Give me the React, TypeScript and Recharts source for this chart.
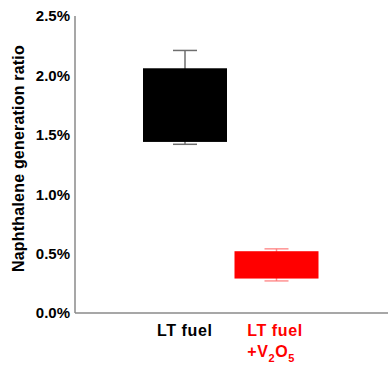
import React from 'react';
import { ComposedChart, Bar, XAxis, YAxis, Cell } from 'recharts';

const categories = ['LT fuel', 'LT fuel +V2O5'];
const boxLow = [1.44, 0.29];
const boxHigh = [2.06, 0.52];
const whiskerLow = [1.42, 0.27];
const whiskerHigh = [2.21, 0.54];
const yTicks = [0, 0.5, 1.0, 1.5, 2.0, 2.5];
const boxColors = ['#000000', '#ff0000'];
const whiskerColors = ['#6e6e6e', 'rgba(255,110,110,0.75)'];
const yTitle = 'Naphthalene generation ratio';

const data = categories.map((c, i) => ({
  name: c,
  range: [boxLow[i], boxHigh[i]],
  lo: boxLow[i],
  hi: boxHigh[i],
  wLo: whiskerLow[i],
  wHi: whiskerHigh[i],
  idx: i,
}));

const FONT = '"Liberation Sans", Arial, sans-serif';
const FRAME = '#8a8a8a';

const BoxShape = (props: any) => {
  const { x, y, width, height, payload, fill } = props;
  const { lo, hi, wLo, wHi, idx } = payload;
  const ppu = height / (hi - lo);
  const toY = (v: number) => y + (hi - v) * ppu;
  const cx = x + width / 2;
  const capHalf = 12;
  const stroke = whiskerColors[idx];
  const yTop = toY(wHi);
  const yBot = toY(wLo);
  return (
    <g>
      <line x1={cx} x2={cx} y1={yTop} y2={yBot} stroke={stroke} strokeWidth={1.5} />
      <line x1={cx - capHalf} x2={cx + capHalf} y1={yTop} y2={yTop} stroke={stroke} strokeWidth={1.5} />
      <line x1={cx - capHalf} x2={cx + capHalf} y1={yBot} y2={yBot} stroke={stroke} strokeWidth={1.5} />
      <rect x={x} y={y} width={width} height={height} fill={fill} />
    </g>
  );
};

const XTick = (props: any) => {
  const { x, y, index } = props;
  const by = y + 23;
  if (index === 0) {
    return (
      <text x={x} y={by} textAnchor="middle" fill="#000" fontFamily={FONT} fontWeight="bold" fontSize={16} letterSpacing={0.6}>
        LT fuel
      </text>
    );
  }
  const lx = x - 29;
  return (
    <text x={lx} y={by} fill="#ff0000" fontFamily={FONT} fontWeight="bold" fontSize={16} letterSpacing={0.6}>
      <tspan x={lx}>LT fuel</tspan>
      <tspan x={lx} dy={21}>+V</tspan>
      <tspan dy={5} fontSize={11}>2</tspan>
      <tspan dy={-5}>O</tspan>
      <tspan dy={5} fontSize={11}>5</tspan>
    </text>
  );
};

const YTitle = (props: any) => {
  const cx = 24;
  const cy = 158.5;
  return (
    <text x={cx} y={cy} textAnchor="middle" transform={`rotate(-90, ${cx}, ${cy})`} fill="#000" fontFamily={FONT} fontWeight="bold" fontSize={16} letterSpacing={0.2}>
      {yTitle}
    </text>
  );
};

export default function App() {
  return (
    <div style={{ position: 'absolute', left: 0, top: 0, background: '#fff' }}>
      <ComposedChart width={389} height={370} data={data} margin={{ top: 16, right: 1, bottom: 0, left: 0 }}>
        <XAxis
          dataKey="name"
          height={57}
          padding={{ left: 64, right: 66 }}
          tick={<XTick />}
          tickLine={false}
          tickSize={0}
          tickMargin={0}
          axisLine={{ stroke: FRAME, strokeWidth: 1.5 }}
          interval={0}
        />
        <XAxis xAxisId="top" dataKey="name" orientation="top" height={0} tick={false} tickLine={false} axisLine={{ stroke: FRAME, strokeWidth: 1.5 }} padding={{ left: 64, right: 66 }} />
        <YAxis
          domain={[0, 2.5]}
          ticks={yTicks}
          width={75}
          tickLine={false}
          tickSize={3}
          tickMargin={2}
          tickFormatter={(v: number) => `${v.toFixed(1)}%`}
          tick={{ fill: '#000', fontFamily: FONT, fontWeight: 'bold', fontSize: 15 }}
          axisLine={{ stroke: FRAME, strokeWidth: 1.5 }}
          label={<YTitle />}
          allowDataOverflow
        />
        <YAxis yAxisId="right" orientation="right" width={0} tick={false} tickLine={false} axisLine={{ stroke: FRAME, strokeWidth: 1 }} domain={[0, 2.5]} />
        <Bar dataKey="range" barSize={84} isAnimationActive={false} shape={<BoxShape />}>
          {data.map((d, i) => (
            <Cell key={d.name} fill={boxColors[i]} />
          ))}
        </Bar>
      </ComposedChart>
    </div>
  );
}
